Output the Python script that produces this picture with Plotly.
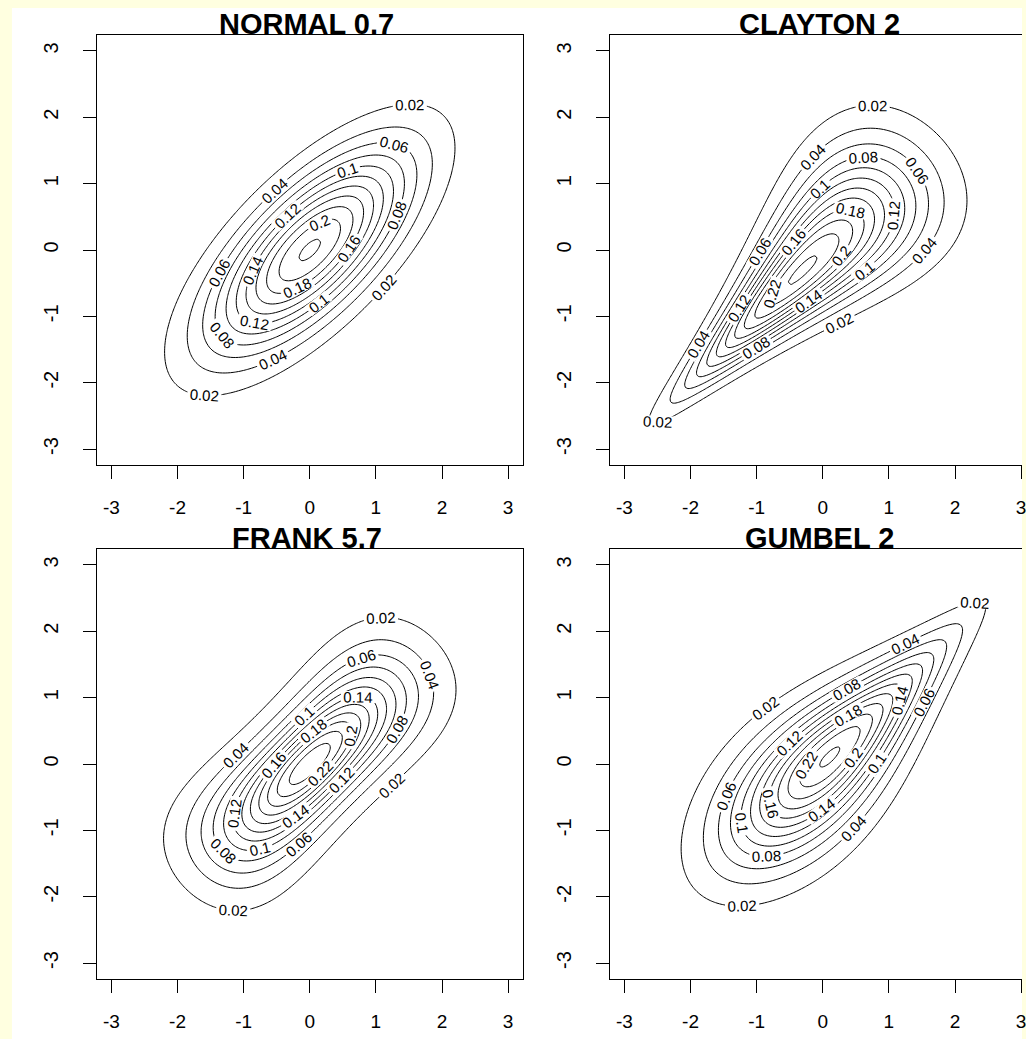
import math
import numpy as np
import plotly.graph_objects as go

# ---- chart content ----
families = ["NORMAL", "CLAYTON", "FRANK", "GUMBEL"]
params = [0.7, 2, 5.7, 2]
titles = ["NORMAL 0.7", "CLAYTON 2", "FRANK 5.7", "GUMBEL 2"]
level_start = 0.02
level_step = 0.02
level_end = 0.60
tick_vals = [-3, -2, -1, 0, 1, 2, 3]
tick_text = ["-3", "-2", "-1", "0", "1", "2", "3"]
grid_lo, grid_hi, grid_n = -3.2, 3.2, 161

# ---- density of each copula with standard normal margins ----
g = np.linspace(grid_lo, grid_hi, grid_n)
X, Y = np.meshgrid(g, g)
erf = np.vectorize(math.erf)
U = 0.5 * (1 + erf(X / math.sqrt(2)))
V = 0.5 * (1 + erf(Y / math.sqrt(2)))
fX = np.exp(-X ** 2 / 2) / math.sqrt(2 * math.pi)
fY = np.exp(-Y ** 2 / 2) / math.sqrt(2 * math.pi)


def density(family, t):
    if family == "NORMAL":
        r = t
        return np.exp(-(X ** 2 - 2 * r * X * Y + Y ** 2) / (2 * (1 - r ** 2))) / (
            2 * math.pi * math.sqrt(1 - r ** 2))
    if family == "CLAYTON":
        c = (1 + t) * (U * V) ** (-t - 1) * (U ** -t + V ** -t - 1) ** (-2 - 1 / t)
    elif family == "FRANK":
        a = 1 - math.exp(-t)
        c = t * a * np.exp(-t * (U + V)) / (a - (1 - np.exp(-t * U)) * (1 - np.exp(-t * V))) ** 2
    else:  # GUMBEL
        lx, ly = -np.log(U), -np.log(V)
        A = (lx ** t + ly ** t) ** (1 / t)
        c = np.exp(-A) / (U * V) * (lx * ly) ** (t - 1) * A ** (1 - 2 * t) * (A + t - 1)
    return c * fX * fY


# ---- layout geometry (pixels) ----
W, H = 1026, 1039
FONT = "Liberation Sans, Arial, sans-serif"
px_x = lambda p: p / W
px_y = lambda p: 1 - p / H

boxes = [  # (left, right, top, bottom, xrange)
    (97, 525, 35, 465, [-3.224, 3.224]),
    (612, 1026, 35, 465, [-3.224, 3.013]),
    (97, 525, 549, 979, [-3.224, 3.224]),
    (612, 1026, 549, 979, [-3.224, 3.013]),
]

fig = go.Figure()
layout = dict(
    width=W, height=H,
    margin=dict(l=0, r=0, t=0, b=0),
    paper_bgcolor="#FFFFE0",
    plot_bgcolor="white",
    showlegend=False,
    font=dict(family=FONT, color="black"),
    annotations=[],
    shapes=[dict(type="rect", xref="paper", yref="paper", x0=px_x(12), x1=1.0,
                 y0=0, y1=px_y(8), fillcolor="white", line=dict(width=0), layer="below")],
)

for i, (fam, t) in enumerate(zip(families, params)):
    k = "" if i == 0 else str(i + 1)
    z = density(fam, t)
    fig.add_trace(go.Contour(
        x=g, y=g, z=z, xaxis="x" + k, yaxis="y" + k,
        autocontour=False,
        contours=dict(start=level_start, end=level_end, size=level_step,
                      coloring="lines", showlabels=True,
                      labelfont=dict(family=FONT, size=15, color="black"),
                      labelformat=".2~f"),
        colorscale=[[0, "black"], [1, "black"]],
        line=dict(width=1),
        showscale=False, hoverinfo="skip",
    ))
    l, r, tp, bt, xr = boxes[i]
    right_col = i in (1, 3)
    layout["xaxis" + k] = dict(
        domain=[px_x(l), px_x(r)], range=xr, anchor="y" + k,
        showgrid=False, zeroline=False, showline=True, linecolor="black", linewidth=1,
        mirror=True, ticks="outside", ticklen=13, tickcolor="black", tickwidth=1,
        tickvals=tick_vals, ticktext=tick_text, ticklabelstandoff=12,
        ticklabeloverflow="allow",
        tickfont=dict(family=FONT, size=19, color="black"),
    )
    layout["yaxis" + k] = dict(
        domain=[px_y(bt), px_y(tp)], range=[-3.24, 3.24], anchor="x" + k,
        showgrid=False, zeroline=False, showline=True, linecolor="black", linewidth=1,
        mirror=not right_col, ticks="outside", ticklen=13, tickcolor="black", tickwidth=1,
        tickvals=tick_vals, ticktext=tick_text, tickangle=-90, ticklabelstandoff=17,
        ticklabeloverflow="allow",
        tickfont=dict(family=FONT, size=20, color="black"),
    )
    layout["annotations"].append(dict(
        text="<b>" + titles[i] + "</b>", xref="paper", yref="paper",
        x=px_x((l + 428 / 2) - 3), y=px_y(tp + 7), xanchor="center", yanchor="bottom",
        showarrow=False, font=dict(family=FONT, size=29, color="black"),
    ))

fig.update_layout(**layout)
fig.write_html("out.html")
